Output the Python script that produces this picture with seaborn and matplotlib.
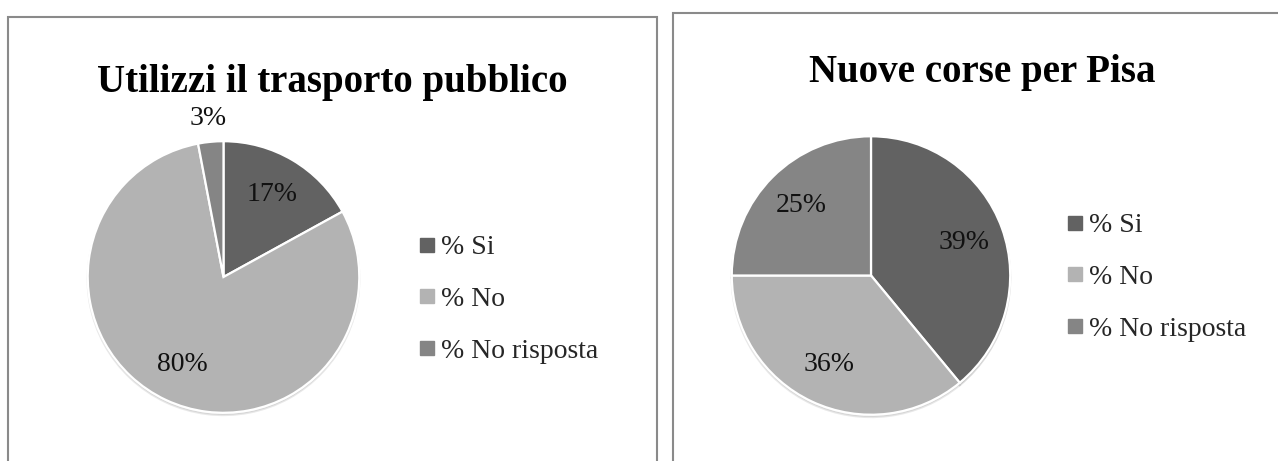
import matplotlib
matplotlib.use("Agg")
import matplotlib.pyplot as plt
from matplotlib.patches import Rectangle
from matplotlib.lines import Line2D
import seaborn as sns

sns.set_theme(style="white")
plt.rcParams["font.family"] = ["Liberation Serif", "DejaVu Serif"]

# data
categorie = ["% Si", "% No", "% No risposta"]
trasporto_pubblico = [17, 80, 3]
nuove_corse = [39, 36, 25]
titoli = ["Utilizzi il trasporto pubblico", "Nuove corse per Pisa"]

colori = sns.color_palette(["#626262", "#b3b3b3", "#858585"])

W, H = 1278, 461
fig = plt.figure(figsize=(W / 100, H / 100), dpi=100)


def px(x, y, w, h):
    # pixel box (top-left origin) -> figure fraction
    return [x / W, 1 - (y + h) / H, w / W, h / H]


# panel frames
for (x0, y0, x1) in [(8, 17, 657), (673, 13, 1300)]:
    fig.patches.append(Rectangle((x0 / W, -0.1), (x1 - x0) / W, (H - y0) / H + 0.1,
                                 transform=fig.transFigure, fill=False,
                                 edgecolor="#8a8a8a", linewidth=1.5))

panels = [
    dict(vals=trasporto_pubblico, box=px(85, 138.5, 277, 277), title_xy=(332, 92),
         leg_xy=(420, 299.5)),
    dict(vals=nuove_corse, box=px(729, 133.5, 284, 284), title_xy=(982, 82),
         leg_xy=(1068, 277.5)),
]

for p, titolo in zip(panels, titoli):
    ax = fig.add_axes(p["box"])
    wedges, _, autotexts = ax.pie(
        p["vals"], colors=colori, startangle=90, counterclock=False,
        autopct="%1.0f%%", pctdistance=0.71,
        wedgeprops=dict(edgecolor="white", linewidth=1.6),
        textprops=dict(fontsize=20, color="#111111"),
        shadow=dict(ox=0, oy=-0.012, shade=0.2, alpha=0.2),
    )
    # small slice label goes outside
    for v, t in zip(p["vals"], autotexts):
        if v < 5:
            x, y = t.get_position()
            d = (x ** 2 + y ** 2) ** 0.5
            t.set_position((x / d * 1.17, y / d * 1.17))
    ax.set_xlim(-1.02, 1.02)
    ax.set_ylim(-1.02, 1.02)
    ax.set_aspect("equal")
    ax.axis("off")

    tx, ty = p["title_xy"]
    fig.text(tx / W, 1 - ty / H, titolo, ha="center", va="baseline",
             fontsize=28, fontweight="bold", color="black")

    handles = [Line2D([], [], marker="s", linestyle="none", markersize=9.5,
                      markerfacecolor=c, markeredgecolor=c) for c in colori]
    lx, ly = p["leg_xy"]
    fig.legend(handles, categorie, loc="center left",
               bbox_to_anchor=(lx / W, 1 - ly / H), frameon=False,
               fontsize=20, handlelength=0.5, handletextpad=0.25,
               labelspacing=0.95, borderpad=0, borderaxespad=0)

fig.savefig("out.png", dpi=100, facecolor="white")
